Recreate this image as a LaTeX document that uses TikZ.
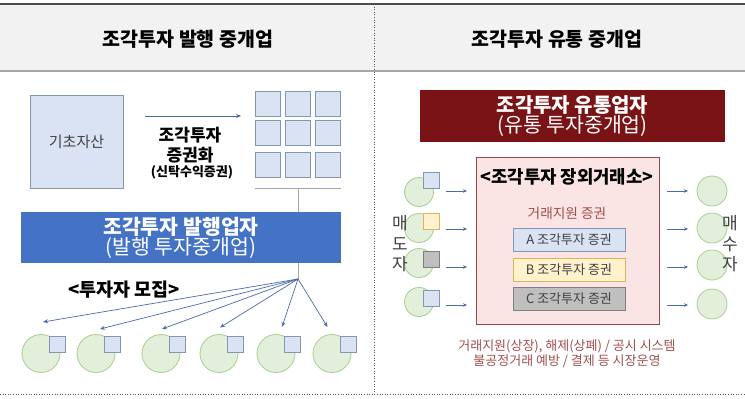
\documentclass[tikz,border=0pt]{standalone}
\usepackage{fontspec}
\setmainfont{Noto Sans CJK KR}
\usetikzlibrary{arrows.meta}
\definecolor{hdrbg}{HTML}{F2F2F2}
\definecolor{sqf}{HTML}{DAE3F3}
\definecolor{sqd}{HTML}{8497B0}
\definecolor{cf}{HTML}{E2EFDA}
\definecolor{cd}{HTML}{A9CD8E}
\definecolor{bluebox}{HTML}{4472C4}
\definecolor{maroon}{HTML}{7A1315}
\definecolor{pinkf}{HTML}{FBE4E4}
\definecolor{pinkd}{HTML}{8E4A4A}
\definecolor{yelf}{HTML}{FFF2CC}
\definecolor{yeld}{HTML}{D9B45A}
\definecolor{grf}{HTML}{BFBFBF}
\definecolor{grd}{HTML}{7F7F7F}
\definecolor{arr}{HTML}{4A6BAE}
\definecolor{redtxt}{HTML}{A0504E}
\definecolor{darktxt}{HTML}{404040}
\begin{document}
\begin{tikzpicture}[x=1pt,y=-1pt,
  every node/.style={inner sep=0pt, outer sep=0pt},
  sq/.style={draw=sqd, fill=sqf, line width=0.8pt, minimum width=#1, minimum height=#1},
  sqy/.style={draw=yeld, fill=yelf, line width=0.8pt, minimum width=#1, minimum height=#1},
  sqg/.style={draw=grd, fill=grf, line width=0.8pt, minimum width=#1, minimum height=#1},
  circ/.style={circle, draw=cd, fill=cf, line width=0.8pt, minimum size=#1},
  arrline/.style={draw=arr, line width=0.7pt, -{Stealth[length=5pt,width=4pt]}},
  conn/.style={draw=gray!70, line width=0.8pt},
  secbox/.style={minimum width=112pt, minimum height=23pt, line width=0.8pt, font=\fontsize{13}{13}\selectfont}
]
\useasboundingbox (0,0) rectangle (745,399);
\fill[white] (0,0) rectangle (745,399);
% header band
\fill[hdrbg] (0,4) rectangle (745,71);
\draw[gray!60!black, line width=1.2pt] (0,4) -- (745,4);
\draw[gray!70, line width=2pt] (0,71) -- (745,71);
\draw[gray!70!black, dotted, line width=0.6pt] (374,4) -- (374,395);
\draw[gray!70!black, dotted, line width=0.6pt] (0,394.5) -- (745,394.5);
\node[font=\bfseries\fontsize{19.5}{19.5}\selectfont] (h1) at (188,39) {조각투자 발행 중개업};
\node[font=\bfseries\fontsize{19.5}{19.5}\selectfont] (h2) at (557,39) {조각투자 유통 중개업};

% ---------- left ----------
\node[sq=93pt, text=darktxt, font=\fontsize{15}{15}\selectfont] (asset) at (76.5,141.5) {기초자산};
\coordinate (a1) at (145,116);
\coordinate (a2) at (241,116);
\draw[arrline] (a1) -- (a2);
\node[align=center, font=\bfseries\fontsize{17}{20}\selectfont] (sec) at (190,145) {조각투자\\증권화};
\node[font=\bfseries\fontsize{13}{13}\selectfont] (trust) at (192,172) {(신탁수익증권)};
% grid
\foreach \i/\x in {1/267.5,2/297.5,3/328} {
  \foreach \j/\y in {1/104,2/133,3/164.5} {
    \node[sq=25pt] (g\i\j) at (\x,\y) {};
  }
}
\coordinate (gl1) at (255,188);
\coordinate (gl2) at (341,188);
\draw[conn] (gl1) -- (gl2);
\node[fill=bluebox, minimum width=320pt, minimum height=51pt, text=white, align=center] (issuer) at (181,237.5)
  {{\bfseries\fontsize{20.5}{24}\selectfont 조각투자 발행업자}\\{\fontsize{20.5}{22}\selectfont (발행 투자중개업)}};
\coordinate (gv) at (298,188);
\draw[conn] (gv) -- (issuer.north -| gv);
\coordinate (fan) at (298,279);
\draw[conn] (issuer.south -| fan) -- (fan);
\node[font=\bfseries\fontsize{18.5}{18.5}\selectfont] (recruit) at (124,290) {<투자자 모집>};
% investors
\foreach \k/\cx in {1/41,2/96,3/161,4/219,5/276,6/332} {
  \node[circ=38pt] (inv\k) at (\cx,353.5) {};
  \node[sq=16pt] (invs\k) at (\cx+16.5,344.5) {};
}
\coordinate (e1) at (43,322);
\coordinate (e2) at (100,329);
\coordinate (e3) at (162,329);
\coordinate (e4) at (220,327.5);
\coordinate (e5) at (282,327);
\coordinate (e6) at (327.5,327);
\foreach \k in {1,...,6} { \draw[arrline] (fan) -- (e\k); }

% ---------- right ----------
\node[fill=maroon, minimum width=305pt, minimum height=52pt, text=white, align=center] (dist) at (572.5,116)
  {{\bfseries\fontsize{20}{23.5}\selectfont 조각투자 유통업자}\\{\fontsize{20.5}{22}\selectfont (유통 투자중개업)}};
\node[draw=pinkd, fill=pinkf, line width=0.9pt, minimum width=183pt, minimum height=167pt] (otc) at (567.5,240.5) {};
\node[font=\bfseries\fontsize{17.8}{17.8}\selectfont] (otct) at (567,177) {<조각투자 장외거래소>};
\node[text=redtxt, font=\fontsize{13.7}{13.7}\selectfont] (supp) at (567,213) {거래지원 증권};
\node[secbox, draw=sqd, fill=sqf, text=darktxt] (A) at (569,240) {A 조각투자 증권};
\node[secbox, draw=yeld, fill=yelf, text=darktxt] (B) at (569,270) {B 조각투자 증권};
\node[secbox, draw=grd, fill=grf, text=darktxt] (C) at (569,299) {C 조각투자 증권};
\node[text=redtxt, align=center, font=\fontsize{13}{14.5}\selectfont] (rules) at (567,354)
  {거래지원(상장), 해제(상폐) / 공시 시스템\\불공정거래 예방 / 결제 등 시장운영};
% sellers
\foreach \k/\cy/\sy/\st in {1/192/180/sq,2/228/221/sqy,3/263/259/sqg,4/302/298/sq} {
  \node[circ=29pt] (sel\k) at (419,\cy) {};
  \node[\st=16pt] (sels\k) at (431,\sy) {};
}
% buyers
\foreach \k/\cy in {1/191,2/228,3/265,4/304} {
  \node[circ=30pt] (buy\k) at (712,\cy) {};
}
\foreach \k/\y in {1/191,2/229,3/267,4/305} {
  \coordinate (ls\k) at (446,\y); \coordinate (le\k) at (467,\y);
  \coordinate (rs\k) at (667,\y); \coordinate (re\k) at (688,\y);
  \draw[arrline, line width=0.6pt, -{Stealth[length=4pt,width=3.5pt]}] (ls\k) -- (le\k);
  \draw[arrline, line width=0.6pt, -{Stealth[length=4pt,width=3.5pt]}] (rs\k) -- (re\k);
}
\node[text=darktxt, align=center, font=\fontsize{17}{20.5}\selectfont] (sellers) at (400,244) {매\\도\\자};
\node[text=darktxt, align=center, font=\fontsize{17}{20.5}\selectfont] (buyers) at (730,244) {매\\수\\자};
\end{tikzpicture}
\end{document}
